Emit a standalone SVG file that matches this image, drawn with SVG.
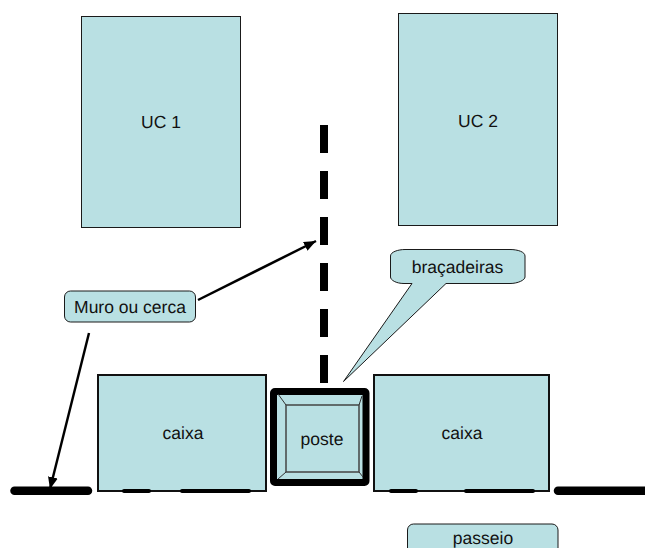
<svg xmlns="http://www.w3.org/2000/svg" width="645" height="548" viewBox="0 0 645 548">
<style>
.b{fill:#b9e0e3;stroke:#1a1a1a;stroke-width:1}
.k{fill:#b9e0e3;stroke:#111;stroke-width:2}
.t{font-family:"Liberation Sans",Arial,sans-serif;font-size:17.5px;fill:#111;text-anchor:middle;text-rendering:geometricPrecision}
.l{fill:none;stroke:#000;stroke-linecap:round}
.a{stroke:#000;stroke-width:2.5;fill:none}
</style>
<defs>
<marker id="ah" markerUnits="userSpaceOnUse" markerWidth="14" markerHeight="12" refX="12" refY="5" orient="auto"><path d="M0 0L12 5L0 10Z" fill="#000"/></marker>
</defs>
<g id="uc1"><rect class="b" x="81.500" y="16.500" width="159" height="211"/><text class="t" x="161" y="128">UC 1</text></g>
<g id="uc2"><rect class="b" x="398.500" y="13.500" width="159" height="212"/><text class="t" x="478" y="127">UC 2</text></g>
<g id="connectors">
<path d="M324 125V383" fill="none" stroke="#000" stroke-width="8" stroke-dasharray="28 18"/>
<path class="a" d="M198 300L316 241" marker-end="url(#ah)"/>
<path class="a" d="M89 333L50 489" marker-end="url(#ah)"/>
</g>
<g id="muro-esq"><path class="l" stroke-width="8.500" d="M14.500 490.700H88"/></g>
<g id="muro-dir"><path class="l" stroke-width="8.500" d="M558 490.700H649"/></g>
<g id="caixa1"><rect class="k" x="98" y="375" width="168" height="116"/><path class="l" stroke-width="4" d="M124 491H149M182 491H249"/><text class="t" x="183" y="439">caixa</text></g>
<g id="caixa2"><rect class="k" x="374" y="375" width="175" height="116"/><path class="l" stroke-width="4" d="M391 491H416M466 491H533"/><text class="t" x="462" y="439">caixa</text></g>
<g id="poste">
<rect x="273.500" y="391.500" width="92.500" height="91" rx="1.500" fill="#b9e0e3" stroke="#000" stroke-width="7"/>
<rect x="286" y="405" width="73" height="67" fill="none" stroke="#444" stroke-width="1.500"/>
<path d="M278 394L286 405M359 405L362 396M286 472L278 479M359 472L363 477" fill="none" stroke="#333" stroke-width="1"/>
<text class="t" x="322" y="445">poste</text>
</g>
<g id="muro-label"><rect class="b" x="64.500" y="291" width="131" height="31" rx="6"/><text class="t" x="130" y="313">Muro ou cerca</text></g>
<g id="bracadeiras">
<path class="b" d="M343.500 381.500L412 283.500H404C396 283.500 390.500 280 390.500 277V256C390.500 252 398 249.500 405 249.500H510C518 249.500 525 252 525 256V277C525 280 518 283.500 510 283.500H446Z"/>
<text class="t" x="457.500" y="273">braçadeiras</text></g>
<g id="passeio"><rect class="b" x="407.500" y="524" width="150.500" height="40" rx="6"/><text class="t" x="483" y="544">passeio</text></g>
</svg>
